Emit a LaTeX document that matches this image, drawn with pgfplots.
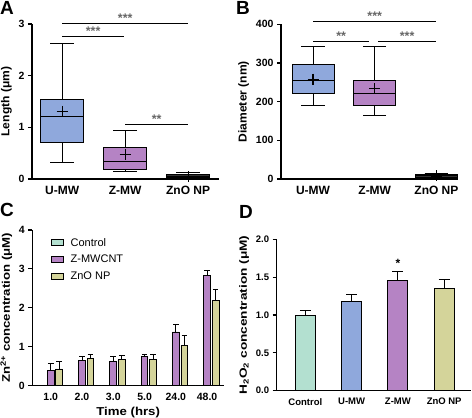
\documentclass[border=0pt]{standalone}
\usepackage{fontspec}
\setmainfont{Liberation Sans}
\usepackage{pgfplots}
\pgfplotsset{compat=1.18}
\usepgfplotslibrary{statistics}
\definecolor{cblue}{RGB}{143,168,220}
\definecolor{cpurple}{RGB}{181,131,196}
\definecolor{cyellow}{RGB}{212,212,154}
\definecolor{cteal}{RGB}{179,224,208}
\tikzset{sig/.style={font=\bfseries\fontsize{12.5}{13}\selectfont, text=black!60, inner sep=0.5pt}}
\pgfplotsset{
  panel/.style={
    scale only axis, anchor=south west,
    axis lines=left, axis line style={-, line width=1.1pt},
    tick align=outside, major tick length=4pt,
    ytick style={line width=1.1pt, black},
    xtick style={draw=none},
    tick label style={font=\bfseries\fontsize{10.5}{12}\selectfont},
    xticklabel style={font=\bfseries\fontsize{12}{14}\selectfont},
    /pgf/number format/assume math mode=true,
    label style={font=\bfseries\fontsize{11.5}{13}\selectfont\addfontfeatures{FakeStretch=1.05}},
    clip=false,
  },
  eb/.style={error bars/.cd, y dir=plus, y explicit, error mark=-,
    error mark options={rotate=90, black, mark size=#1, line width=0.9pt},
    error bar style={line width=0.9pt, black}},
}
\begin{document}
\begin{tikzpicture}
\useasboundingbox (0,0) rectangle (472pt,418pt);
% ---------------- A
\begin{axis}[panel, at={(32pt,239pt)}, width=187pt, height=155pt,
  xmin=-0.48, xmax=2.49, ymin=0, ymax=3, ytick={0,1,2,3},
  xtick={0,1,2}, xticklabels={U-MW,Z-MW,ZnO NP},
  ylabel={Length (μm)}, boxplot/draw direction=y]
\addplot[boxplot prepared={lower whisker=0.31, lower quartile=0.71, median=1.21, upper quartile=1.54, upper whisker=2.62, draw position=0, box extend=0.68, whisker extend=0.38}, fill=cblue, draw=black, line width=1pt] coordinates {};
\addplot[boxplot prepared={lower whisker=0.14, lower quartile=0.19, median=0.34, upper quartile=0.60, upper whisker=0.93, draw position=1, box extend=0.68, whisker extend=0.38}, fill=cpurple, draw=black, line width=1pt] coordinates {};
\addplot[boxplot prepared={lower whisker=0.01, lower quartile=0.03, median=0.05, upper quartile=0.08, upper whisker=0.12, draw position=2, box extend=0.68, whisker extend=0.38}, fill=black!80, draw=black, line width=1pt] coordinates {};
\addplot[only marks, mark=+, mark size=5.5pt, mark options={line width=1.2pt}, black] coordinates {(0,1.31) (1,0.48) (2,0.05)};
\draw[line width=1pt] (axis cs:0,3) -- (axis cs:2,3) node[midway, above, sig] {***};
\draw[line width=1pt] (axis cs:0,2.75) -- (axis cs:0.98,2.75) node[midway, above, sig] {***};
\draw[line width=1pt] (axis cs:1,1.05) -- (axis cs:2,1.05) node[midway, above, sig] {**};
\end{axis}
% ---------------- B
\begin{axis}[panel, at={(281pt,239pt)}, width=177pt, height=154.7pt,
  xmin=-0.52, xmax=2.35, ymin=0, ymax=400, ytick={0,100,200,300,400},
  xtick={0,1,2}, xticklabels={U-MW,Z-MW,ZnO NP},
  ylabel={Diameter (nm)}, boxplot/draw direction=y]
\addplot[boxplot prepared={lower whisker=190, lower quartile=220, median=255, upper quartile=295, upper whisker=342, draw position=0, box extend=0.68, whisker extend=0.38}, fill=cblue, draw=black, line width=1pt] coordinates {};
\addplot[boxplot prepared={lower whisker=163, lower quartile=190, median=220, upper quartile=255, upper whisker=342, draw position=1, box extend=0.68, whisker extend=0.38}, fill=cpurple, draw=black, line width=1pt] coordinates {};
\addplot[boxplot prepared={lower whisker=3, lower quartile=5, median=8, upper quartile=12, upper whisker=15, draw position=2, box extend=0.68, whisker extend=0.38}, fill=black!80, draw=black, line width=1pt] coordinates {};
\addplot[only marks, mark=+, mark size=5.5pt, mark options={line width=1.2pt}, black] coordinates {(0,258) (1,233) (2,8)};
\draw[line width=1pt] (axis cs:0,408) -- (axis cs:2,408) node[midway, above, sig] {***};
\draw[line width=1pt] (axis cs:0,356) -- (axis cs:0.91,356) node[midway, above, sig] {**};
\draw[line width=1pt] (axis cs:1.05,356) -- (axis cs:2,356) node[midway, above, sig] {***};
\end{axis}
% ---------------- C
\begin{axis}[panel, at={(32.3pt,32.3pt)}, width=191.7pt, height=155.7pt,
  xmin=-0.59, xmax=5.54, ymin=0, ymax=4, ytick={0,1,2,3,4},
  ybar=1.8pt, bar width=6.7pt,
  xtick={0,1,2,3,4,5}, xticklabels={1.0,2.0,3.0,5.0,24.0,48.0},
  xticklabel style={font=\bfseries\fontsize{10.5}{12}\selectfont},
  xlabel={Time (hrs)},
  xlabel style={font=\bfseries\fontsize{11.5}{13}\selectfont\addfontfeatures{FakeStretch=1.15}},
  ylabel={Zn\textsuperscript{2+} concentration (μM)},
  ylabel style={font=\bfseries\fontsize{11}{13}\selectfont\addfontfeatures{FakeStretch=1.2}},
  legend image code/.code={\draw[#1, draw=black, line width=0.8pt] (-5pt,-3pt) rectangle (7pt,3pt);},
  legend style={draw=none, fill=none, at={(axis description cs:0.08,0.975)}, anchor=north west,
    font=\fontsize{11}{13}\selectfont, row sep=3.5pt,
    /tikz/every odd column/.append style={column sep=5pt}},
  legend cell align=left]
\addplot[fill=cteal, draw=black, line width=0.9pt]
  coordinates {(0,0) (1,0) (2,0) (3,0) (4,0) (5,0)};
\addplot[fill=cpurple, draw=black, line width=0.9pt, eb=2.8pt]
  coordinates {(0,0.40) +- (0,0.17) (1,0.64) +- (0,0.10) (2,0.62) +- (0,0.13) (3,0.74) +- (0,0.07) (4,1.38) +- (0,0.19) (5,2.84) +- (0,0.13)};
\addplot[fill=cyellow, draw=black, line width=0.9pt, eb=2.8pt]
  coordinates {(0,0.43) +- (0,0.20) (1,0.71) +- (0,0.09) (2,0.68) +- (0,0.09) (3,0.68) +- (0,0.11) (4,1.03) +- (0,0.26) (5,2.19) +- (0,0.27)};
\legend{Control, Z-MWCNT, ZnO NP}
\end{axis}
% ---------------- D
\begin{axis}[panel, at={(276.7pt,27.3pt)}, width=194.3pt, height=151.4pt,
  xmin=-0.62, xmax=3.58, ymin=0, ymax=2, ytick={0,0.5,1,1.5,2},
  yticklabel style={/pgf/number format/.cd, fixed, fixed zerofill, precision=1},
  tick label style={font=\bfseries\fontsize{9.5}{11}\selectfont},
  xtick={0,1,2,3}, xticklabels={Control,U-MW,Z-MW,ZnO NP},
  xticklabel style={font=\bfseries\fontsize{9.5}{11}\selectfont},
  ylabel={H\textsubscript{2}O\textsubscript{2} concentration (μM)},
  ylabel style={font=\bfseries\fontsize{10.5}{12}\selectfont\addfontfeatures{FakeStretch=1.3}}]
\addplot[ybar, bar width=20pt, bar shift=0pt, fill=cteal, draw=black, line width=0.9pt, eb=5.5pt]
  coordinates {(0,1.00) +- (0,0.057)};
\addplot[ybar, bar width=20pt, bar shift=0pt, fill=cblue, draw=black, line width=0.9pt, eb=5.5pt]
  coordinates {(1,1.185) +- (0,0.08)};
\addplot[ybar, bar width=20pt, bar shift=0pt, fill=cpurple, draw=black, line width=0.9pt, eb=5.5pt]
  coordinates {(2,1.46) +- (0,0.12)};
\addplot[ybar, bar width=20pt, bar shift=0pt, fill=cyellow, draw=black, line width=0.9pt, eb=5.5pt]
  coordinates {(3,1.35) +- (0,0.12)};
\node[font=\bfseries\fontsize{12}{12}\selectfont, text=black, inner sep=0pt] at (axis cs:2,1.68) {*};
\end{axis}
% panel letters
\node[anchor=north west, inner sep=0pt, font=\bfseries\fontsize{19}{21}\selectfont] at (0pt,417pt) {A};
\node[anchor=north west, inner sep=0pt, font=\bfseries\fontsize{19}{21}\selectfont] at (236pt,417pt) {B};
\node[anchor=north west, inner sep=0pt, font=\bfseries\fontsize{19}{21}\selectfont] at (0pt,215pt) {C};
\node[anchor=north west, inner sep=0pt, font=\bfseries\fontsize{19}{21}\selectfont] at (239pt,213pt) {D};
\end{tikzpicture}
\end{document}
